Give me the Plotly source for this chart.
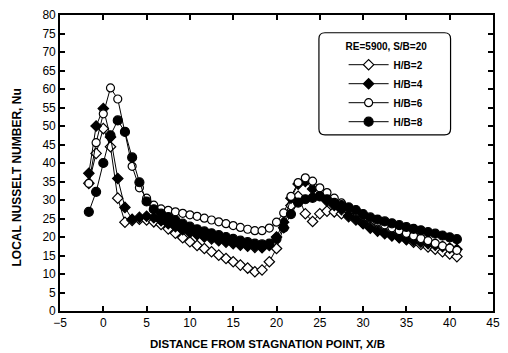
import plotly.graph_objects as go

x_over_b = [-1.67, -0.83, 0.0, 0.83, 1.67, 2.5, 3.33, 4.17, 5.0, 5.83, 6.67, 7.5, 8.33, 9.17,
            10.0, 10.83, 11.67, 12.5, 13.33, 14.17, 15.0, 15.83, 16.67, 17.5, 18.33, 19.17,
            20.0, 20.83, 21.67, 22.5, 23.33, 24.17, 25.0, 25.83, 26.67, 27.5, 28.33, 29.17,
            30.0, 30.83, 31.67, 32.5, 33.33, 34.17, 35.0, 35.83, 36.67, 37.5, 38.33, 39.17,
            40.0, 40.83]

nu_hb2 = [34.5, 42.6, 49.3, 44.4, 30.5, 24.0, 24.5, 24.8, 24.6, 24.1, 23.4, 22.2, 21.0, 19.8,
          18.7, 17.7, 16.9, 16.0, 15.1, 14.2, 13.3, 12.4, 11.6, 10.6, 11.1, 13.3,
          16.9, 22.5, 28.5, 31.0, 26.3, 24.2, 26.3, 27.0, 26.8, 26.3, 25.5, 24.6,
          23.7, 22.8, 22.0, 21.2, 20.5, 19.9, 19.3, 18.6, 18.0, 17.3, 16.7, 16.0,
          15.4, 14.7]

nu_hb4 = [37.2, 50.0, 54.7, 47.0, 35.8, 28.0, 24.8, 25.3, 25.6, 25.2, 24.4, 23.6, 22.8, 22.0,
          21.2, 20.6, 20.0, 19.5, 19.0, 18.6, 18.2, 17.8, 17.5, 17.2, 17.1, 17.7,
          20.0, 24.0, 30.5, 34.3, 35.0, 33.0, 31.3, 29.7, 28.5, 27.4, 25.8, 24.9,
          23.6, 22.4, 21.6, 20.9, 20.3, 19.8, 19.4, 19.0, 18.6, 18.2, 17.8, 17.4,
          17.0, 16.7]

nu_hb6 = [34.5, 45.5, 53.3, 60.3, 57.3, 48.5, 39.1, 33.3, 30.5, 28.6, 27.6, 27.2, 26.8, 26.4,
          26.0, 25.6, 25.1, 24.6, 24.1, 23.6, 23.1, 22.6, 22.1, 21.7, 21.7, 22.4,
          24.0, 26.5, 31.0, 34.7, 36.0, 35.1, 33.3, 32.0, 30.5, 29.2, 27.9, 26.9,
          25.9, 25.0, 24.1, 23.3, 22.5, 21.7, 21.0, 20.3, 19.6, 19.0, 18.3, 17.6,
          17.0, 16.4]

nu_hb8 = [26.8, 32.2, 40.0, 47.5, 51.5, 48.4, 41.5, 34.8, 29.6, 27.5, 26.3, 25.4, 24.5, 23.6,
          22.8, 22.1, 21.5, 21.0, 20.5, 20.0, 19.5, 19.0, 18.6, 18.2, 18.0, 18.2,
          19.5, 22.5, 26.2, 29.3, 30.2, 30.6, 31.0, 30.2, 29.2, 28.6, 28.0, 27.3,
          26.2, 25.3, 24.7, 24.2, 23.7, 23.2, 22.7, 22.2, 21.8, 21.3, 20.9, 20.4,
          19.9, 19.4]

series_names = ["H/B=2", "H/B=4", "H/B=6", "H/B=8"]
legend_title = "RE=5900, S/B=20"
x_title = "DISTANCE FROM STAGNATION POINT, X/B"
y_title = "LOCAL NUSSELT NUMBER, Nu"
x_ticks = list(range(-5, 46, 5))
y_ticks = list(range(0, 81, 5))

FONT = "Liberation Sans, Arial, sans-serif"

styles = [
    dict(symbol="diamond", color="white", size=8),
    dict(symbol="diamond", color="black", size=8),
    dict(symbol="circle", color="white", size=8),
    dict(symbol="circle", color="black", size=9),
]

fig = go.Figure()
for name, ys, st in zip(series_names, [nu_hb2, nu_hb4, nu_hb6, nu_hb8], styles):
    fig.add_trace(go.Scatter(
        x=x_over_b, y=ys, name=name, mode="lines+markers",
        line=dict(color="black", width=1),
        marker=dict(symbol=st["symbol"], size=st["size"], color=st["color"],
                    line=dict(color="black", width=1.2)),
    ))

axis_common = dict(
    showline=True, linecolor="black", linewidth=1.6, mirror="ticks",
    ticks="inside", ticklen=5, tickwidth=1.5, tickcolor="black",
    showgrid=False, zeroline=False,
    tickfont=dict(family=FONT, size=12, color="black"),
)

fig.update_xaxes(range=[-5, 45], tickvals=x_ticks, **axis_common)
fig.update_yaxes(range=[0, 80], tickvals=y_ticks, **axis_common)

fig.update_layout(
    width=508, height=353,
    margin=dict(l=60, r=8, t=12, b=42),
    paper_bgcolor="white", plot_bgcolor="white",
    font=dict(family=FONT, color="black"),
    showlegend=True,
    legend=dict(
        x=0.655, y=0.925, xanchor="left", yanchor="top",
        bgcolor="rgba(0,0,0,0)", borderwidth=0,
        title=dict(text="<b>" + legend_title + "</b>", font=dict(family=FONT, size=10)),
        font=dict(family=FONT, size=10, weight="bold"),
        itemwidth=40, tracegroupgap=0,
    ),
    shapes=[dict(
        type="path", xref="paper", yref="paper",
        path="M 0.612,0.940 L 0.888,0.940 Q 0.902,0.940 0.902,0.920 L 0.902,0.615 "
             "Q 0.902,0.595 0.888,0.595 L 0.612,0.595 Q 0.598,0.595 0.598,0.615 "
             "L 0.598,0.920 Q 0.598,0.940 0.612,0.940 Z",
        line=dict(color="black", width=1.2), fillcolor="rgba(0,0,0,0)",
    )],
    annotations=[
        dict(text="<b>" + x_title + "</b>", xref="paper", yref="paper",
             x=0.48, y=-0.085, xanchor="center", yanchor="top", showarrow=False,
             font=dict(family=FONT, size=11.5, color="black")),
        dict(text="<b>" + y_title + "</b>", xref="paper", yref="paper",
             x=-0.1, y=0.45, xanchor="center", yanchor="middle", textangle=-90,
             showarrow=False, font=dict(family=FONT, size=12, color="black")),
    ],
)

fig.write_html("out.html")
